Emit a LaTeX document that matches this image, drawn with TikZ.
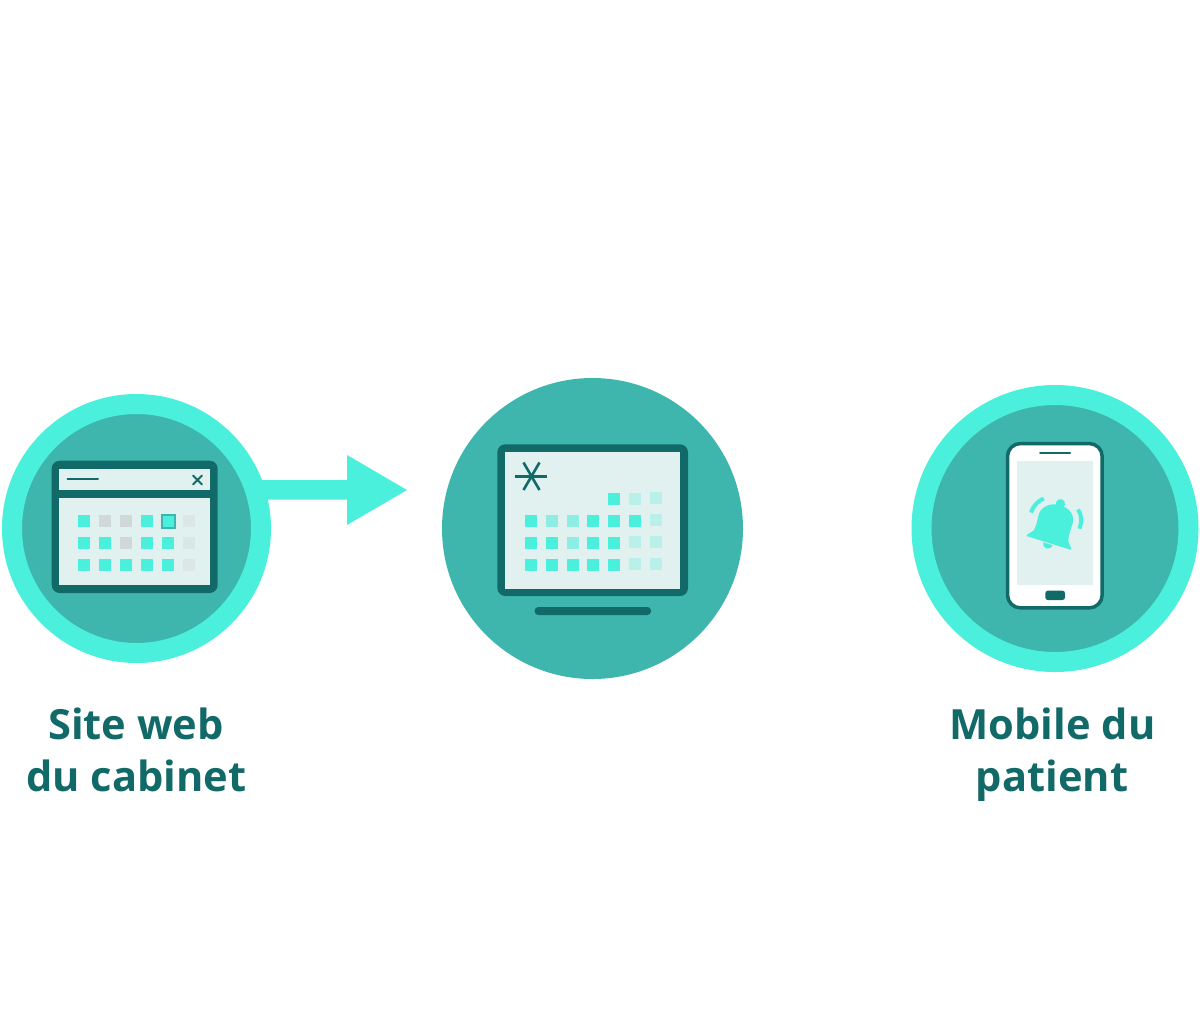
\documentclass[tikz,border=0pt]{standalone}
\usepackage{fontspec}
\setmainfont{Open Sans}
\definecolor{bright}{HTML}{4AF0DC}
\definecolor{disc}{HTML}{3FB6AD}
\definecolor{dark}{HTML}{116A68}
\definecolor{paper}{HTML}{E0F1F0}
\definecolor{greyA}{HTML}{D0D8D8}
\definecolor{greyB}{HTML}{DBE6E6}
\definecolor{midc}{HTML}{8FEEE3}
\definecolor{palec}{HTML}{BAF0EA}
\tikzset{
  ring/.style={circle,inner sep=0pt,fill=disc,draw=bright,line width=20pt},
  plain disc/.style={circle,inner sep=0pt,fill=disc},
  caption/.style={anchor=base,text=dark,font=\fontsize{41.6}{48}\selectfont\bfseries},
  darkline/.style={draw=dark,line cap=round},
}
\newcommand{\sq}[3]{\fill[#1] (#2,#3) rectangle ++(12,12);}
\begin{document}
\begin{tikzpicture}[x=1pt,y=-1pt]
\useasboundingbox (0,0) rectangle (1200,1013);
\fill[white] (0,0) rectangle (1200,1013);
% arrow
\fill[bright] (240,480) -- (347,480) -- (347,455) -- (407,490) -- (347,525) -- (347,499.5) -- (240,499.5) -- cycle;
% discs
\node[ring,minimum size=249pt] (site) at (136.5,528.5) {};
\node[plain disc,minimum size=301pt] (hub) at (592.5,528.5) {};
\node[ring,minimum size=267pt] (mobile) at (1055,528.5) {};
% window
\fill[dark,rounded corners=8pt] (51.7,460.7) rectangle (217.7,593);
\fill[paper] (59.3,468.7) rectangle (210.3,489.7);
\fill[paper] (59.3,497.7) rectangle (210.3,585.3);
\draw[darkline,line width=2pt] (67.5,479) -- (98,479);
\draw[darkline,line width=2pt] (193,475.5) -- (202,484.5) (202,475.5) -- (193,484.5);
\foreach \x/\c in {78/bright,99/greyA,120/greyA,141/bright,162/bright,182.5/greyB}{\sq{\c}{\x}{515}}
\foreach \x/\c in {78/bright,99/bright,120/greyA,141/bright,162/bright,182.5/greyB}{\sq{\c}{\x}{537}}
\foreach \x/\c in {78/bright,99/bright,120/bright,141/bright,162/bright,182.5/greyB}{\sq{\c}{\x}{559}}
\draw[draw=disc,line width=2pt] (161.5,514.5) rectangle (174.5,527.5);
% monitor
\fill[dark,rounded corners=8pt] (497.3,444.3) rectangle (688,596);
\fill[paper] (505.3,452.3) rectangle (680.3,588.7);
\fill[dark,rounded corners=3.5pt] (534.7,607) rectangle (651,615);
\draw[draw=dark,line width=3pt] (515,476.3) -- (547,476.3);
\draw[draw=dark,line width=2.6pt] (523.5,462.5) -- (539.5,490) (539.5,462.5) -- (523.5,490);
\foreach \x/\c in {608/bright,629/palec}{\sq{\c}{\x}{493}}
\sq{palec}{650}{492}
\foreach \x/\c in {524.5/bright,545.5/midc,566.5/midc,587/bright,608/bright,629/bright}{\sq{\c}{\x}{515}}
\sq{palec}{650}{514}
\foreach \x/\c in {524.5/bright,545.5/bright,566.5/midc,587/bright,608/bright}{\sq{\c}{\x}{537}}
\sq{palec}{629}{536}\sq{palec}{650}{536}
\foreach \x/\c in {524.5/bright,545.5/bright,566.5/bright,587/bright,608/bright}{\sq{\c}{\x}{559}}
\sq{palec}{629}{558}\sq{palec}{650}{558}
% phone
\draw[draw=dark,fill=white,line width=3.5pt,rounded corners=13pt] (1007.5,443.5) rectangle (1102.2,607.9);
\fill[paper] (1017,461) rectangle (1093.3,585);
\draw[darkline,line width=2pt] (1040,453) -- (1070,453);
\fill[dark,rounded corners=2.5pt] (1045.3,590.7) rectangle (1065,600);
% bell
\begin{scope}[shift={(1049.2,541.5)},rotate=-17.3]
\fill[bright] (-0.5,-39.5) circle (4.6pt);
\fill[bright] (-23,0) -- (-18,-6)
  .. controls (-16.5,-12) and (-18,-18) .. (-18,-24)
  .. controls (-17,-33) and (-8,-38) .. (0,-38)
  .. controls (9,-38) and (17,-33) .. (17,-24)
  .. controls (17,-18) and (16.5,-12) .. (18,-6)
  -- (23,0) -- (23,1.5) -- (-23,1.5) -- cycle;
\fill[bright] (-5.5,2.5) arc[start angle=180,end angle=360,radius=5pt] -- cycle;
\end{scope}
\draw[draw=bright,line width=4pt] (1031,512.5) .. controls (1033,506) and (1038,501) .. (1043.7,498.5);
\draw[draw=bright,line width=4pt] (1078,509.5) .. controls (1082,515) and (1082,522) .. (1079.5,528.7);
% captions
\node[caption] (t1) at (136,739) {Site web};
\node[caption] (t2) at (136.5,791) {du cabinet};
\node[caption] (t3) at (1052.5,739) {Mobile du};
\node[caption] (t4) at (1052,791) {patient};
\end{tikzpicture}
\end{document}
